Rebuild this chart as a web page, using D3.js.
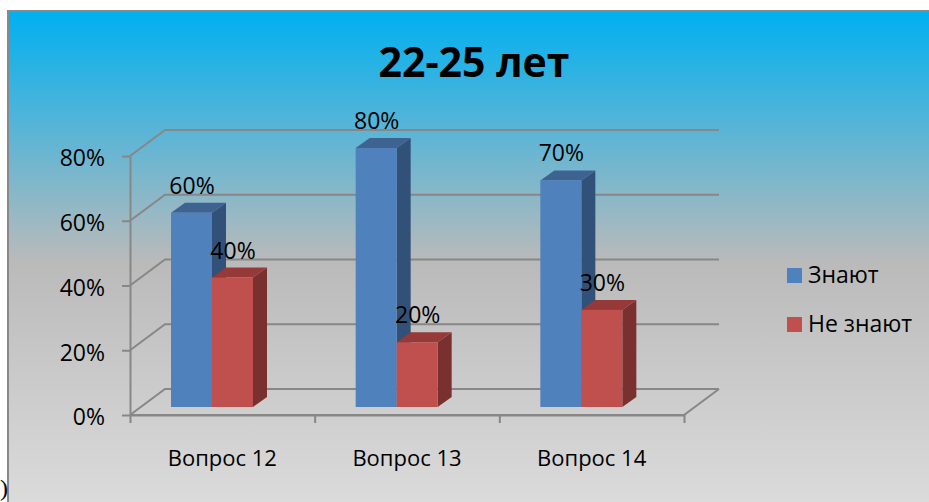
<!DOCTYPE html>
<html>
<head>
<meta charset="utf-8">
<script src="https://cdnjs.cloudflare.com/ajax/libs/d3/7.8.5/d3.min.js"></script>
<style>
  html, body { margin: 0; padding: 0; background: #fff; overflow: hidden; }
  svg { display: block; }
  text { font-family: "Open Sans", sans-serif; fill: #000; }
</style>
</head>
<body>
<svg id="chart" width="929" height="502"></svg>
<script>
var chartTitle = "22-25 лет";
var categories = ["Вопрос 12", "Вопрос 13", "Вопрос 14"];
var seriesNames = ["Знают", "Не знают"];
var knowValues = [60, 80, 70];
var dontKnowValues = [40, 20, 30];
var percentTicks = [0, 20, 40, 60, 80];

var gridColor = "#878787";
var seriesColors = {
  "Знают": {front: "#4f81bd", top: "#3f6391", side: "#325178"},
  "Не знают": {front: "#c0504d", top: "#953a38", side: "#7a302f"}
};

var depth = {x: 35, y: -26};
var barDepth = {x: 14, y: -10};
var barBaseOffset = -8;

var svg = d3.select("#chart");

// panel background
var grad = svg.append("defs").append("linearGradient")
  .attr("id", "panelFill")
  .attr("x1", 0).attr("y1", 0).attr("x2", 0).attr("y2", 1);
grad.append("stop").attr("offset", "0%").attr("stop-color", "#00b0f0");
grad.append("stop").attr("offset", "50%").attr("stop-color", "#bababa");
grad.append("stop").attr("offset", "100%").attr("stop-color", "#dcdcdc");

svg.append("rect")
  .attr("x", 8).attr("y", 11)
  .attr("width", 930).attr("height", 500)
  .attr("fill", "url(#panelFill)")
  .attr("stroke", "#898989")
  .attr("stroke-width", 2);

// stray bracket from the page the chart was cut out of
svg.append("text")
  .attr("x", 0).attr("y", 496)
  .style("font-family", "Liberation Serif")
  .style("font-size", "24px")
  .text(")");

var y = d3.scaleLinear().domain([0, 80]).range([415, 156]);
var xEdge = d3.scaleLinear().domain([0, categories.length]).range([130, 684]);
var x = d3.scaleBand().domain(categories).range([130, 684]);
var xInner = d3.scaleBand().domain(seriesNames).range([41, 123]);

// back wall, side wall, floor
var grid = svg.append("g")
  .attr("fill", "none")
  .attr("stroke", gridColor)
  .attr("stroke-width", 2);

grid.selectAll("path.wall")
  .data(percentTicks)
  .enter()
  .append("path")
  .attr("class", "wall")
  .attr("d", function(d){
    return d3.line()([
      [xEdge(0), y(d)],
      [xEdge(0) + depth.x, y(d) + depth.y],
      [xEdge(categories.length) + depth.x, y(d) + depth.y]
    ]);
  });

grid.append("path")
  .attr("d", d3.line()([
    [xEdge(0), y(0)],
    [xEdge(categories.length), y(0)],
    [xEdge(categories.length) + depth.x, y(0) + depth.y]
  ]));

// axes
var yAxis = d3.axisLeft(y)
  .tickValues(percentTicks)
  .tickSize(8)
  .tickSizeOuter(0)
  .tickFormat(function(d){ return d + "%"; });

var yAxisG = svg.append("g")
  .attr("transform", "translate(" + xEdge(0) + ",0)")
  .call(yAxis);

var xTicks = d3.axisBottom(xEdge)
  .tickValues(d3.range(categories.length + 1))
  .tickSize(8)
  .tickSizeOuter(0)
  .tickFormat("");

var xTicksG = svg.append("g")
  .attr("transform", "translate(0," + y(0) + ")")
  .call(xTicks);

var xLabels = d3.axisBottom(x).tickSize(0).tickPadding(35);
var xLabelsG = svg.append("g")
  .attr("transform", "translate(0," + y(0) + ")")
  .call(xLabels);
xLabelsG.select(".domain").remove();

[yAxisG, xTicksG].forEach(function(g){
  g.selectAll("path, line").attr("stroke", gridColor).attr("stroke-width", 2);
});
yAxisG.selectAll("text")
  .attr("x", -25)
  .attr("dy", "0.43em")
  .attr("fill", "#000")
  .style("font-family", '"Open Sans", sans-serif')
  .style("font-size", "23px");
xLabelsG.selectAll("text")
  .attr("fill", "#000")
  .style("font-family", '"Open Sans", sans-serif')
  .style("font-size", "22px");

// bars
var rows = [];
categories.forEach(function(c, i){
  rows.push({category: c, series: seriesNames[0], value: knowValues[i]});
  rows.push({category: c, series: seriesNames[1], value: dontKnowValues[i]});
});

function barLeft(d){ return x(d.category) + xInner(d.series); }
function barTop(d){ return y(d.value) + barBaseOffset; }
function barBottom(){ return y(0) + barBaseOffset; }

var bars = svg.append("g").selectAll("g")
  .data(rows)
  .enter()
  .append("g");

bars.append("path")
  .attr("fill", function(d){ return seriesColors[d.series].side; })
  .attr("d", function(d){
    var r = barLeft(d) + xInner.bandwidth();
    return d3.line()([
      [r, barTop(d)],
      [r + barDepth.x, barTop(d) + barDepth.y],
      [r + barDepth.x, barBottom() + barDepth.y],
      [r, barBottom()]
    ]) + "Z";
  });

bars.append("path")
  .attr("fill", function(d){ return seriesColors[d.series].top; })
  .attr("d", function(d){
    var l = barLeft(d), r = l + xInner.bandwidth();
    return d3.line()([
      [l, barTop(d)],
      [l + barDepth.x, barTop(d) + barDepth.y],
      [r + barDepth.x, barTop(d) + barDepth.y],
      [r, barTop(d)]
    ]) + "Z";
  });

bars.append("rect")
  .attr("x", barLeft)
  .attr("y", barTop)
  .attr("width", xInner.bandwidth())
  .attr("height", function(d){ return barBottom() - barTop(d); })
  .attr("fill", function(d){ return seriesColors[d.series].front; });

// value labels go over all the bars
svg.append("g").selectAll("text")
  .data(rows)
  .enter()
  .append("text")
  .attr("x", function(d){ return barLeft(d) + xInner.bandwidth() / 2 + 0.5; })
  .attr("y", function(d){ return barTop(d) - 19; })
  .attr("text-anchor", "middle")
  .style("font-size", "23px")
  .text(function(d){ return d.value + "%"; });

// title
svg.append("text")
  .attr("x", 474).attr("y", 77)
  .attr("text-anchor", "middle")
  .style("font-size", "41px")
  .style("font-weight", "700")
  .text(chartTitle);

// legend
var legendY = d3.scalePoint().domain(seriesNames).range([268, 317]);
var legend = svg.append("g").selectAll("g")
  .data(seriesNames)
  .enter()
  .append("g")
  .attr("transform", function(d){ return "translate(787," + legendY(d) + ")"; });

legend.append("rect")
  .attr("width", 15).attr("height", 15)
  .attr("fill", function(d){ return seriesColors[d].front; });

legend.append("text")
  .attr("x", 21).attr("y", 15)
  .style("font-size", "23px")
  .text(function(d){ return d; });
</script>
</body>
</html>
